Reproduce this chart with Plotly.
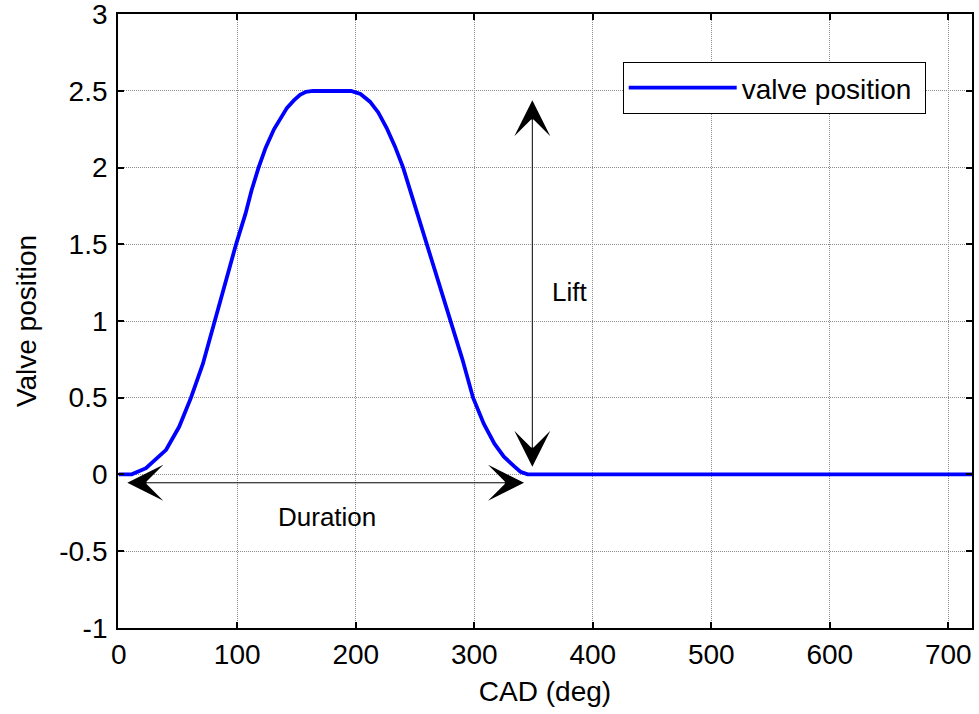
import plotly.graph_objects as go

# ---- data ----
cad_deg = [0, 11, 23, 40, 51, 61, 71, 81, 91, 99, 107, 112, 118, 124, 131, 137, 142, 148,
           153, 158, 164, 196, 204, 212, 219, 226, 233, 240, 250, 260, 270, 280, 290,
           299, 308, 317, 325, 334, 339, 345, 720]
valve_pos = [0, 0, 0.04, 0.16, 0.31, 0.5, 0.72, 1.0, 1.27, 1.5, 1.70, 1.85, 2.0, 2.13,
             2.25, 2.33, 2.39, 2.44, 2.475, 2.495, 2.5, 2.5, 2.48, 2.43, 2.36, 2.26,
             2.14, 2.0, 1.75, 1.5, 1.25, 1.0, 0.75, 0.5, 0.33, 0.2, 0.115, 0.05, 0.017,
             0, 0]

x_ticks = [0, 100, 200, 300, 400, 500, 600, 700]
x_tick_labels = ["0", "100", "200", "300", "400", "500", "600", "700"]
y_ticks = [-1, -0.5, 0, 0.5, 1, 1.5, 2, 2.5, 3]
y_tick_labels = ["-1", "-0.5", "0", "0.5", "1", "1.5", "2", "2.5", "3"]

# annotation arrows (data units)
lift_x = 349
lift_y = [0.04, 2.44]
duration_y = -0.055
duration_x = [6, 342]
lift_label = ("Lift", 380, 1.19)
duration_label = ("Duration", 176, -0.28)

FONT = "Liberation Sans, Arial, sans-serif"
FS = 28

fig = go.Figure()
fig.add_trace(go.Scatter(
    x=cad_deg, y=valve_pos, mode="lines", name="valve position ",
    line=dict(color="#0000ff", width=3.8),
))

# double arrows
for (x0, y0, x1, y1) in [(lift_x, lift_y[0], lift_x, lift_y[1]),
                         (duration_x[0], duration_y, duration_x[1], duration_y)]:
    fig.add_annotation(x=x1, y=y1, ax=x0, ay=y0,
                       xref="x", yref="y", axref="x", ayref="y", text="",
                       showarrow=True, arrowhead=3, startarrowhead=3,
                       arrowside="end+start", arrowsize=6, startarrowsize=6,
                       arrowwidth=1, arrowcolor="black")
for txt, tx, ty in [lift_label, duration_label]:
    fig.add_annotation(x=tx, y=ty, xref="x", yref="y", text=txt, showarrow=False,
                       font=dict(family=FONT, size=FS - 2, color="black"))

axis_common = dict(
    showline=True, linecolor="black", linewidth=1.8, mirror="ticks",
    ticks="inside", ticklen=6, tickcolor="black", tickwidth=1.5,
    showgrid=True, gridcolor="#8c8c8c", gridwidth=1, griddash="1px,1px",
    zeroline=False, tickfont=dict(family=FONT, size=FS, color="black"),
    ticklabeloverflow="allow",
)

fig.update_xaxes(range=[-0.6, 720], tickvals=x_ticks, ticktext=x_tick_labels,
                 title=dict(text="CAD (deg)", font=dict(family=FONT, size=FS, color="black"),
                            standoff=13),
                 ticklabelstandoff=0, **axis_common)
fig.update_yaxes(range=[-1.002, 3.002], tickvals=y_ticks, ticktext=y_tick_labels,
                 title=dict(text="Valve position", font=dict(family=FONT, size=FS, color="black"),
                            standoff=14),
                 ticklabelstandoff=3, **axis_common)

fig.update_layout(
    width=979, height=714,
    margin=dict(l=118, r=7, t=14, b=86, autoexpand=False),
    paper_bgcolor="white", plot_bgcolor="white",
    font=dict(family=FONT, size=FS, color="black"),
    showlegend=True,
    legend=dict(x=0.591, y=0.922, xanchor="left", yanchor="top",
                bgcolor="white", bordercolor="black", borderwidth=1,
                itemwidth=108, font=dict(family=FONT, size=FS, color="black")),
)

fig.write_html("out.html")
